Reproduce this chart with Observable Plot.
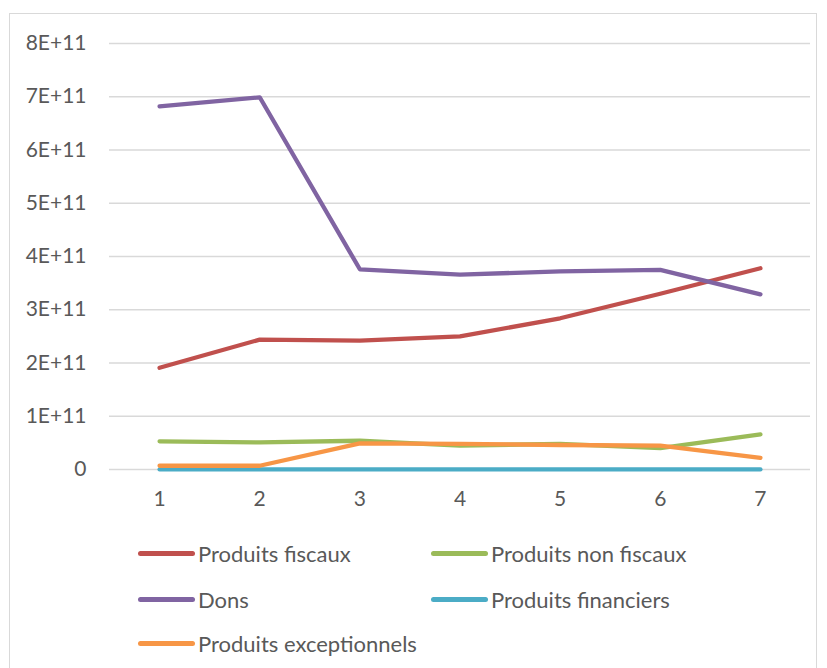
<!DOCTYPE html>
<html>
<head>
<meta charset="utf-8">
<script src="https://cdn.jsdelivr.net/npm/d3@7"></script>
<script src="https://cdn.jsdelivr.net/npm/@observablehq/plot@0.6"></script>
<style>
  html, body { margin: 0; padding: 0; background: #fff; }
  body { width: 827px; height: 668px; position: relative; overflow: hidden; font-family: Lato, "Open Sans", sans-serif; }
  #frame { position: absolute; left: 9px; top: 13px; width: 808px; height: 700px; border: 1px solid #d9d9d9; box-sizing: border-box; }
  #chart { position: absolute; left: 0; top: 0; }
  .leg { position: absolute; display: flex; align-items: center; font-size: 22px; color: #595959; white-space: nowrap; }
  .sw { width: 57px; height: 5px; border-radius: 3px; margin-right: 3px; }
</style>
</head>
<body>
<div id="frame"></div>
<div id="chart"></div>
<div id="legend"></div>
<script>
const periods = [1, 2, 3, 4, 5, 6, 7];
const seriesNames = ["Produits fiscaux", "Produits non fiscaux", "Dons", "Produits financiers", "Produits exceptionnels"];
const seriesColors = ["#C0504D", "#9BBB59", "#8064A2", "#4BACC6", "#F79646"];
const produitsFiscaux = [1.91e11, 2.44e11, 2.42e11, 2.50e11, 2.84e11, 3.30e11, 3.78e11];
const produitsNonFiscaux = [0.53e11, 0.51e11, 0.54e11, 0.45e11, 0.48e11, 0.40e11, 0.66e11];
const dons = [6.82e11, 6.99e11, 3.76e11, 3.66e11, 3.72e11, 3.75e11, 3.29e11];
const produitsFinanciers = [0.002e11, 0.002e11, 0.002e11, 0.002e11, 0.002e11, 0.002e11, 0.002e11];
const produitsExceptionnels = [0.07e11, 0.07e11, 0.49e11, 0.48e11, 0.46e11, 0.45e11, 0.22e11];
const yTicks = [0, 1e11, 2e11, 3e11, 4e11, 5e11, 6e11, 7e11, 8e11];

const seriesValues = [produitsFiscaux, produitsNonFiscaux, dons, produitsFinanciers, produitsExceptionnels];
const data = [];
seriesNames.forEach((name, i) => {
  periods.forEach((p, j) => data.push({series: name, period: p, value: seriesValues[i][j]}));
});

const fmt = d => d === 0 ? "0" : (d / 1e11) + "E+11";

const plot = Plot.plot({
  width: 827,
  height: 525,
  marginLeft: 109,
  marginRight: 17,
  marginTop: 43,
  marginBottom: 56,
  style: {fontFamily: "Lato, 'Open Sans', sans-serif", fontSize: "21px", color: "#595959", background: "transparent"},
  x: {domain: [0.5, 7.5], label: null},
  y: {domain: [0, 8e11], label: null},
  color: {domain: seriesNames, range: seriesColors},
  marks: [
    Plot.ruleY(yTicks, {stroke: "#d9d9d9", strokeWidth: 1.3}),
    Plot.axisX({ticks: periods, tickFormat: d => String(d), tickSize: 0, tickPadding: 22, fill: "#595959", label: null}),
    Plot.axisY({ticks: yTicks, tickFormat: fmt, tickSize: 0, tickPadding: 23, fill: "#595959", label: null}),
    Plot.line(data, {x: "period", y: "value", z: "series", stroke: "series", strokeWidth: 4.3, strokeLinecap: "round", strokeLinejoin: "round"})
  ]
});
document.getElementById("chart").appendChild(plot);

// legend
const legendPos = [
  {x: 138, y: 553}, {x: 431, y: 553},
  {x: 138, y: 599}, {x: 431, y: 599},
  {x: 138, y: 643}
];
const legend = document.getElementById("legend");
seriesNames.forEach((name, i) => {
  const item = document.createElement("div");
  item.className = "leg";
  item.style.left = legendPos[i].x + "px";
  item.style.top = (legendPos[i].y - 15) + "px";
  item.style.height = "30px";
  const sw = document.createElement("div");
  sw.className = "sw";
  sw.style.background = seriesColors[i];
  const tx = document.createElement("span");
  tx.textContent = name;
  item.appendChild(sw);
  item.appendChild(tx);
  legend.appendChild(item);
});
</script>
</body>
</html>
